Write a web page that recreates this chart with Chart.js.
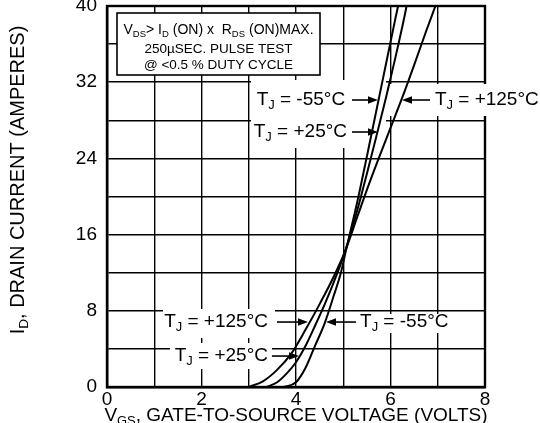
<!DOCTYPE html>
<html><head><meta charset="utf-8">
<script src="https://cdn.jsdelivr.net/npm/chart.js@4.4.1/dist/chart.umd.min.js"></script>
<style>html,body{margin:0;padding:0;background:#fff;overflow:hidden}#wrap{width:540px;height:423px;position:relative}</style>
</head><body><div id="wrap"><canvas id="c" width="540" height="423"></canvas></div>
<script>
// ---- data ----
const vgsHot  = [3.0, 3.3, 3.6, 3.9, 4.2, 4.5, 4.8, 5.05, 5.3, 5.5, 5.75, 6.0, 6.25, 6.5, 6.75, 6.95];
const idHot   = [0, 0.6, 1.8, 3.5, 6.0, 8.7, 11.6, 14.4, 17.9, 20.7, 24.0, 27.2, 30.4, 33.8, 37.3, 40];
const vgsRoom = [3.38, 3.6, 3.8, 4.0, 4.2, 4.4, 4.6, 4.8, 5.05, 5.3, 5.5, 5.7, 5.9, 6.1, 6.3, 6.34];
const idRoom  = [0, 0.5, 1.4, 2.6, 4.3, 6.4, 8.6, 11.0, 14.4, 18.6, 22.4, 26.3, 30.3, 34.5, 39.0, 40];
const vgsCold = [3.75, 4.0, 4.2, 4.4, 4.6, 4.8, 4.95, 5.06, 5.3, 5.5, 5.7, 5.9, 6.1, 6.16];
const idCold  = [0, 0.5, 2.0, 4.3, 6.6, 9.6, 12.0, 14.4, 19.5, 24.2, 29.0, 33.8, 38.6, 40];
const tempLabels = ['+125°C', '+25°C', '-55°C'];
const xTickLabels = ['0', '2', '4', '6', '8'];
const yTickLabels = ['0', '8', '16', '24', '32', '40'];
const xTitleParts = [{t:'V'},{t:'GS',sub:true},{t:', GATE-TO-SOURCE VOLTAGE (VOLTS)'}];
const yTitleParts = [{t:'I'},{t:'D',sub:true},{t:', DRAIN CURRENT (AMPERES)'}];
const noteLines = [
  [{t:'V'},{t:'DS',sub:true},{t:'> I'},{t:'D',sub:true},{t:' (ON) x  R'},{t:'DS',sub:true},{t:' (ON)MAX.'}],
  [{t:'250µSEC. PULSE TEST'}],
  [{t:'@ <0.5 % DUTY CYCLE'}]
];

const FONT = '"Liberation Sans", Arial, Helvetica, sans-serif';
const fnt = s => s + 'px ' + FONT;
const pts = (xs, ys) => xs.map((x, k) => ({x, y: ys[k]}));
const TJ = temp => [{t:'T'},{t:'J',sub:true},{t:' = ' + temp}];

function richWidth(ctx, parts, sz){
  let w = 0;
  for (const p of parts){ ctx.font = fnt(p.sub ? sz*0.68 : sz); w += ctx.measureText(p.t).width; }
  return w;
}
function drawRich(ctx, parts, x, y, sz, align){
  const w = richWidth(ctx, parts, sz);
  let cx = align === 'left' ? x : align === 'right' ? x - w : x - w/2;
  ctx.textBaseline = 'middle'; ctx.textAlign = 'left'; ctx.fillStyle = '#000';
  for (const p of parts){
    const s = p.sub ? sz*0.68 : sz;
    ctx.font = fnt(s);
    ctx.fillText(p.t, cx, p.sub ? y + sz*0.3 : y);
    cx += ctx.measureText(p.t).width;
  }
}
function arrow(ctx, x1, y, x2){
  const dir = Math.sign(x2 - x1);
  ctx.strokeStyle = '#000'; ctx.fillStyle = '#000'; ctx.lineWidth = 1.6;
  ctx.beginPath(); ctx.moveTo(x1, y); ctx.lineTo(x2 - dir*7, y); ctx.stroke();
  ctx.beginPath(); ctx.moveTo(x2, y); ctx.lineTo(x2 - dir*10, y - 3.8); ctx.lineTo(x2 - dir*10, y + 3.8); ctx.closePath(); ctx.fill();
}

// label specs (data coordinates: volts, amperes)
const labelSpecs = [
  {temp:tempLabels[2], side:'left',  i:30.13, text:5.04,  from:5.185, to:5.735},
  {temp:tempLabels[1], side:'left',  i:26.77, text:5.08,  from:5.185, to:5.735},
  {temp:tempLabels[0], side:'right', i:30.13, text:6.94,  from:6.836, to:6.243},
  {temp:tempLabels[0], side:'left',  i:6.82,  text:3.407, from:3.598, to:4.254},
  {temp:tempLabels[2], side:'right', i:6.82,  text:5.355, from:5.27,  to:4.635},
  {temp:tempLabels[1], side:'left',  i:3.25,  text:3.407, from:3.49,  to:4.063}
];
const masks = [[251,80,386,148],[386,84,540,116],[163,309,275,338],[170,343,272,369],[355,314,452,333]];

const deco = {
  id: 'deco',
  beforeDatasetsDraw(chart){
    const {ctx, chartArea:a} = chart;
    ctx.save();
    ctx.strokeStyle = '#000'; ctx.lineWidth = 2.4;
    ctx.strokeRect(a.left, a.top, a.right - a.left, a.bottom - a.top);
    ctx.fillStyle = '#fff';
    for (const m of masks) ctx.fillRect(m[0], m[1], m[2]-m[0], m[3]-m[1]);
    ctx.restore();
  },
  afterDatasetsDraw(chart){
    const {ctx, chartArea:a, scales:{x:xs, y:ys}} = chart;
    ctx.save();
    for (const L of labelSpecs){
      const y = ys.getPixelForValue(L.i);
      drawRich(ctx, TJ(L.temp), xs.getPixelForValue(L.text), y, 19, L.side === 'left' ? 'right' : 'left');
      arrow(ctx, xs.getPixelForValue(L.from), y, xs.getPixelForValue(L.to));
    }
    // test-condition note box
    ctx.fillStyle = '#fff'; ctx.fillRect(117, 13, 203, 62);
    ctx.strokeStyle = '#000'; ctx.lineWidth = 1.6; ctx.strokeRect(117, 13, 203, 62);
    const ny = [30, 49, 65];
    noteLines.forEach((ln, k) => drawRich(ctx, ln, 218.5, ny[k], k === 0 ? 14 : 13.5, 'center'));
    // axis titles
    drawRich(ctx, xTitleParts, (a.left + a.right)/2, 416, 19, 'center');
    ctx.translate(18, 180); ctx.rotate(-Math.PI/2);
    drawRich(ctx, yTitleParts, 0, 0, 20, 'center');
    ctx.restore();
  }
};

const lineStyle = {showLine:true, borderColor:'#000', borderWidth:2, pointRadius:0, cubicInterpolationMode:'monotone', fill:false};
new Chart(document.getElementById('c'), {
  type: 'scatter',
  data: { datasets: [
    Object.assign({label:'TJ = ' + tempLabels[0], data: pts(vgsHot, idHot)}, lineStyle),
    Object.assign({label:'TJ = ' + tempLabels[1], data: pts(vgsRoom, idRoom)}, lineStyle),
    Object.assign({label:'TJ = ' + tempLabels[2], data: pts(vgsCold, idCold)}, lineStyle)
  ]},
  options: {
    responsive: false, animation: false, devicePixelRatio: 1,
    layout: {padding: {left: 0, right: 55, top: 6, bottom: 0}},
    plugins: {legend: {display: false}, tooltip: {enabled: false}},
    scales: {
      x: {type:'linear', min:0, max:8,
          ticks:{stepSize:1, autoSkip:false, maxRotation:0, padding:1, color:'#000', font:{size:19, family:FONT},
                 callback: v => (v % 2 === 0 ? xTickLabels[v/2] : '')},
          grid:{color:'#000', lineWidth:1.4, drawTicks:false},
          border:{color:'#000', width:2.4},
          afterFit: s => { s.height = 36; s.paddingLeft = 0; s.paddingRight = 0; }},
      y: {type:'linear', min:0, max:40,
          ticks:{stepSize:4, autoSkip:false, padding:10, color:'#000', font:{size:19, family:FONT},
                 callback: v => (v % 8 === 0 ? yTickLabels[v/8] : '')},
          grid:{color:'#000', lineWidth:1.4, drawTicks:false},
          border:{color:'#000', width:2.4},
          afterFit: s => { s.width = 107; s.paddingTop = 0; s.paddingBottom = 0; }}
    }
  },
  plugins: [deco]
});
</script></body></html>
